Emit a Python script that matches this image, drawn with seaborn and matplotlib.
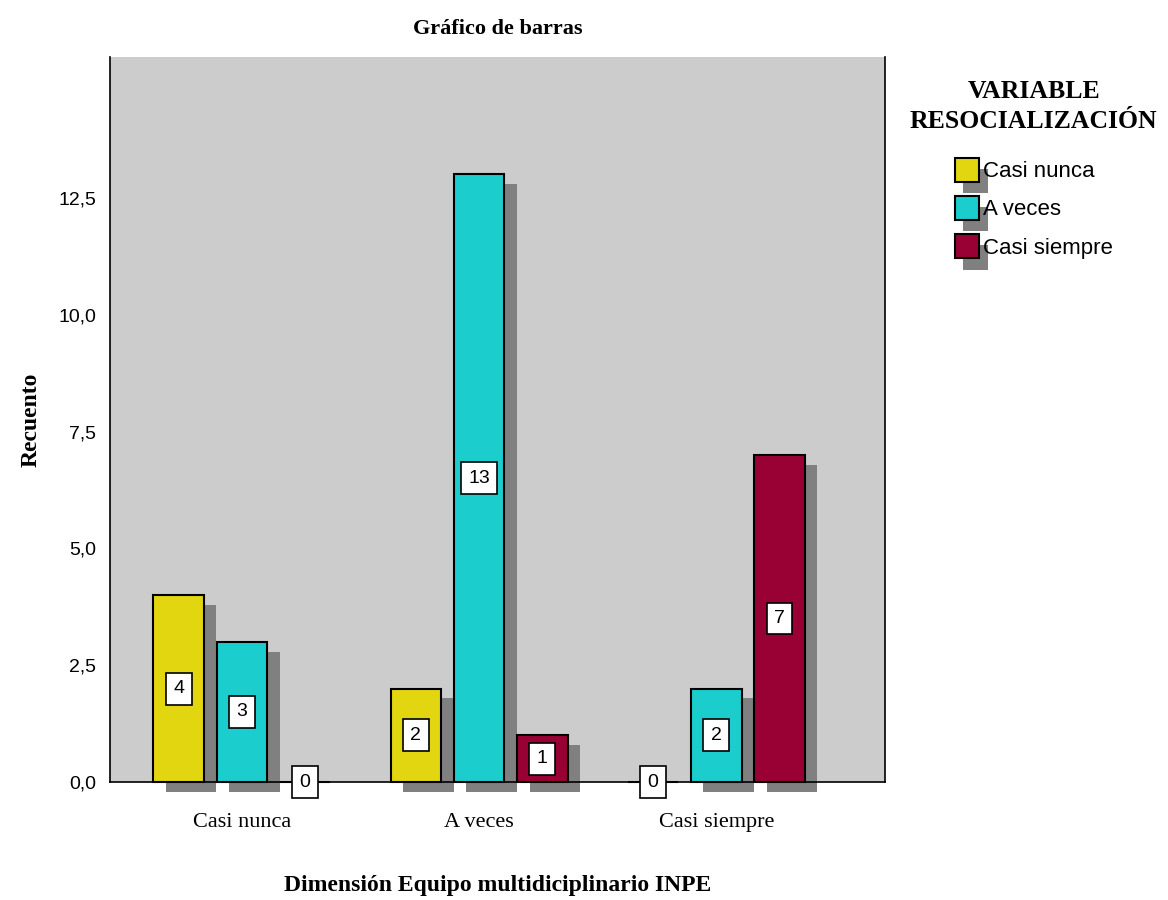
import numpy as np
import pandas as pd
import matplotlib
matplotlib.use("Agg")
import matplotlib.pyplot as plt
import matplotlib.patheffects as pe
from matplotlib.ticker import FuncFormatter
import seaborn as sns

# Datos del gráfico
dimension = ["Casi nunca", "A veces", "Casi siempre"]
variable = ["Casi nunca", "A veces", "Casi siempre"]
recuento_casi_nunca = [4, 3, 0]
recuento_a_veces = [2, 13, 1]
recuento_casi_siempre = [0, 2, 7]
colores = ["#E2D611", "#1CCDCD", "#990033"]

rows = []
for i, d in enumerate(dimension):
    vals = [recuento_casi_nunca, recuento_a_veces, recuento_casi_siempre][i]
    for v, r in zip(variable, vals):
        rows.append({"dimension": d, "variable": v, "recuento": r})
df = pd.DataFrame(rows)

sns.set_style("white")
plt.rcParams["text.color"] = "black"
plt.rcParams["axes.labelcolor"] = "black"
plt.rcParams["xtick.color"] = "black"
plt.rcParams["ytick.color"] = "black"
serif = ["Liberation Serif", "DejaVu Serif"]
sans = ["Liberation Sans", "DejaVu Sans"]

fig = plt.figure(figsize=(11.68, 9), dpi=100)
ax = fig.add_axes([0.094, 0.131, 0.664, 0.806])
ax.set_facecolor("#CCCCCC")

sns.barplot(data=df, x="dimension", y="recuento", hue="variable",
            order=dimension, hue_order=variable, palette=colores, saturation=1,
            width=0.8, gap=0.2, edgecolor="black", linewidth=1.5,
            errorbar=None, ax=ax)

# sombras grises detrás de las barras
sombra = [pe.SimplePatchShadow(offset=(9, -7), shadow_rgbFace="#808080", alpha=1.0), pe.Normal()]
for cont in ax.containers:
    for p in cont:
        p.set_clip_on(False)
        p.set_path_effects(sombra)
    ax.bar_label(cont, label_type="center", fontsize=14, family=sans, color="black",
                 bbox=dict(boxstyle="square,pad=0.38", fc="white", ec="black", lw=1.2))

ax.set_xlim(-0.557, 2.713)
ax.set_ylim(0, 15.52)
ax.set_yticks([0, 2.5, 5, 7.5, 10, 12.5])
ax.yaxis.set_major_formatter(FuncFormatter(lambda v, _: f"{v:.1f}".replace(".", ",")))
ax.tick_params(axis="y", length=0, pad=10, labelsize=14)
ax.tick_params(axis="x", length=0, pad=22, labelsize=16)
for t in ax.get_yticklabels():
    t.set_family(sans)
for t in ax.get_xticklabels():
    t.set_family(serif)

for s in ["left", "bottom", "right"]:
    ax.spines[s].set_color("black")
    ax.spines[s].set_linewidth(1.2)
ax.spines["top"].set_visible(False)

ax.set_xlabel("Dimensión Equipo multidiciplinario INPE", fontsize=17, fontweight="bold",
              family=serif, labelpad=31)
ax.set_ylabel("Recuento", fontsize=17, fontweight="bold", family=serif, labelpad=12)
ax.set_title("Gráfico de barras", fontsize=16, fontweight="bold", family=serif, pad=16)

handles, labels = ax.get_legend_handles_labels()
if ax.legend_:
    ax.legend_.remove()
leg = fig.legend(handles, labels, title="VARIABLE\nRESOCIALIZACIÓN", loc="upper left",
                 bbox_to_anchor=(0.762, 0.933), frameon=False,
                 handlelength=1.1, handleheight=1.3, handletextpad=0.15, labelspacing=0.62,
                 prop={"family": sans, "size": 16})
leg.get_title().set_fontfamily(serif)
leg.get_title().set_fontsize(18.5)
leg.get_title().set_fontweight("bold")
leg.get_title().set_multialignment("center")
leg.get_title().set_linespacing(1.35)
leg._legend_box.align = "center"
leg._legend_box.sep = 18
for h in leg.legend_handles:
    h.set_linewidth(1.5)
    h.set_path_effects([pe.SimplePatchShadow(offset=(6, -8), shadow_rgbFace="#808080", alpha=1.0), pe.Normal()])

fig.savefig("out.png", dpi=100)
